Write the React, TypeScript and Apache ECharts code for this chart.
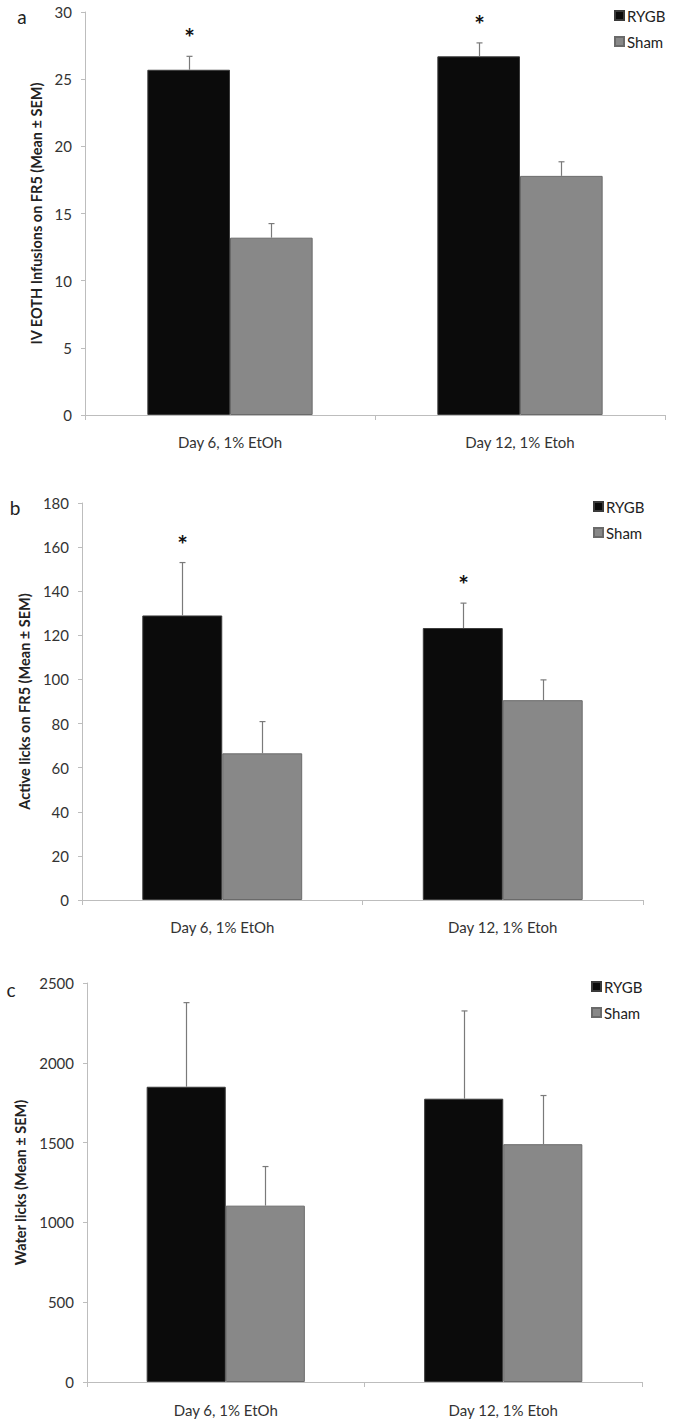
import React, { useEffect, useRef } from "react";
import * as echarts from "echarts";

const categories = ["Day 6, 1% EtOh", "Day 12, 1% Etoh"];
const seriesNames = ["RYGB", "Sham"];

const infusionRYGB = [25.7, 26.7];
const infusionRYGBErr = [1.0, 1.0];
const infusionSham = [13.2, 17.8];
const infusionShamErr = [1.05, 1.05];
const infusionSig = [true, true];

const activeRYGB = [129, 123.3];
const activeRYGBErr = [24, 11.3];
const activeSham = [66.5, 90.6];
const activeShamErr = [14.4, 9.2];
const activeSig = [true, true];

const waterRYGB = [1850, 1775];
const waterRYGBErr = [527, 550];
const waterSham = [1105, 1490];
const waterShamErr = [245, 305];
const waterSig = [false, false];

const yTicksA = { min: 0, max: 30, interval: 5 };
const yTicksB = { min: 0, max: 180, interval: 20 };
const yTicksC = { min: 0, max: 2500, interval: 500 };

const FONT = "Lato, 'Open Sans', sans-serif";
const BAR_GAP_RATIO = 0.43;
const COLORS = ["#0b0b0b", "#888888"];

const panels = [
  {
    grid: { left: 85, top: 12, width: 580, height: 403 },
    yName: "IV EOTH Infusions on FR5 (Mean ± SEM)",
    nameGap: 40,
    ticks: yTicksA,
    rygb: infusionRYGB, rygbErr: infusionRYGBErr,
    sham: infusionSham, shamErr: infusionShamErr,
    sig: infusionSig,
    legend: { left: 614, top: 8 },
    letter: { text: "a", x: 22, y: 16 },
    labelMargin: 19,
  },
  {
    grid: { left: 82, top: 503, width: 561, height: 397 },
    yName: "Active licks on FR5 (Mean ± SEM)",
    nameGap: 47,
    ticks: yTicksB,
    rygb: activeRYGB, rygbErr: activeRYGBErr,
    sham: activeSham, shamErr: activeShamErr,
    sig: activeSig,
    legend: { left: 593, top: 499 },
    letter: { text: "b", x: 15, y: 507 },
    labelMargin: 19,
  },
  {
    grid: { left: 87, top: 983, width: 555, height: 399 },
    yName: "Water licks (Mean ± SEM)",
    nameGap: 57,
    ticks: yTicksC,
    rygb: waterRYGB, rygbErr: waterRYGBErr,
    sham: waterSham, shamErr: waterShamErr,
    sig: waterSig,
    legend: { left: 591, top: 979 },
    letter: { text: "c", x: 11, y: 989 },
    labelMargin: 20,
  },
];

function errorRenderer(side: number, sig: boolean[]) {
  return (params: any, api: any) => {
    const idx = api.value(0);
    const v = api.value(1);
    const e = api.value(2);
    const base = api.coord([idx, v]);
    const top = api.coord([idx, v + e]);
    const band = api.size([1, 0])[0];
    const barW = (band * (1 - BAR_GAP_RATIO)) / 2;
    const x = Math.round(base[0] + (side * barW) / 2) + 0.5;
    const children: any[] = [
      {
        type: "line",
        shape: { x1: x, y1: base[1], x2: x, y2: top[1] },
        style: { stroke: "#7a7a7a", lineWidth: 1.2 },
      },
      {
        type: "line",
        shape: { x1: x - 3, y1: top[1], x2: x + 3, y2: top[1] },
        style: { stroke: "#7a7a7a", lineWidth: 1.2 },
      },
    ];
    if (side < 0 && sig[idx]) {
      children.push({
        type: "text",
        x: x,
        y: top[1] - 19,
        style: {
          text: "*",
          fontSize: 25,
          fontWeight: "bold",
          fontFamily: FONT,
          fill: "#111",
          align: "center",
          verticalAlign: "middle",
        },
      });
    }
    return { type: "group", children };
  };
}

export default function App() {
  const ref = useRef<HTMLDivElement>(null);
  useEffect(() => {
    if (!ref.current) return;
    const chart = echarts.init(ref.current, undefined, { renderer: "svg" });
    const grid: any[] = [];
    const xAxis: any[] = [];
    const yAxis: any[] = [];
    const series: any[] = [];
    const legend: any[] = [];
    const graphic: any[] = [];

    panels.forEach((p, i) => {
      grid.push({ ...p.grid, containLabel: false });
      xAxis.push({
        type: "category",
        gridIndex: i,
        data: categories,
        axisLine: { show: true, lineStyle: { color: "#bdbdbd", width: 1 } },
        axisTick: { show: true, alignWithLabel: false, length: 5, lineStyle: { color: "#bdbdbd" } },
        axisLabel: { margin: p.labelMargin, fontSize: 15, fontFamily: FONT, color: "#333" },
        splitLine: { show: false },
      });
      yAxis.push({
        type: "value",
        gridIndex: i,
        min: p.ticks.min,
        max: p.ticks.max,
        interval: p.ticks.interval,
        name: p.yName,
        nameLocation: "middle",
        nameRotate: 90,
        nameGap: p.nameGap,
        nameTextStyle: { fontSize: 14.5, fontWeight: "bold", fontFamily: FONT, color: "#222" },
        axisLine: { show: true, lineStyle: { color: "#bdbdbd", width: 1 } },
        axisTick: { show: true, length: 4, lineStyle: { color: "#bdbdbd" } },
        axisLabel: {
          margin: 13,
          fontSize: 15,
          fontFamily: FONT,
          color: "#333",
          formatter: (v: number) => String(v),
        },
        splitLine: { show: false },
      });
      series.push({
        name: seriesNames[0],
        type: "bar",
        xAxisIndex: i,
        yAxisIndex: i,
        data: p.rygb,
        barGap: "0%",
        barCategoryGap: BAR_GAP_RATIO * 100 + "%",
        itemStyle: { color: COLORS[0], borderColor: "#3a3a3a", borderWidth: 1 },
      });
      series.push({
        name: seriesNames[1],
        type: "bar",
        xAxisIndex: i,
        yAxisIndex: i,
        data: p.sham,
        barGap: "0%",
        barCategoryGap: BAR_GAP_RATIO * 100 + "%",
        itemStyle: { color: COLORS[1], borderColor: "#6a6a6a", borderWidth: 1 },
      });
      series.push({
        type: "custom",
        xAxisIndex: i,
        yAxisIndex: i,
        z: 5,
        encode: { x: 0, y: 1 },
        data: p.rygb.map((v, k) => [k, v, p.rygbErr[k]]),
        renderItem: errorRenderer(-1, p.sig),
        silent: true,
      });
      series.push({
        type: "custom",
        xAxisIndex: i,
        yAxisIndex: i,
        z: 5,
        encode: { x: 0, y: 1 },
        data: p.sham.map((v, k) => [k, v, p.shamErr[k]]),
        renderItem: errorRenderer(1, p.sig),
        silent: true,
      });
      legend.push({
        data: seriesNames,
        orient: "vertical",
        left: p.legend.left,
        top: p.legend.top,
        icon: "rect",
        itemWidth: 9,
        itemHeight: 9,
        itemGap: 11,
        padding: 0,
        textStyle: { fontSize: 15, fontFamily: FONT, color: "#222", padding: [0, 0, 0, -2] },
      });
      graphic.push({
        type: "text",
        x: p.letter.x,
        y: p.letter.y,
        style: {
          text: p.letter.text,
          fontSize: 19,
          fontFamily: FONT,
          fill: "#222",
          align: "center",
          verticalAlign: "middle",
        },
      });
    });

    chart.setOption({
      animation: false,
      backgroundColor: "#ffffff",
      grid,
      xAxis,
      yAxis,
      series,
      legend,
      graphic,
    });
    return () => chart.dispose();
  }, []);

  return (
    <div
      ref={ref}
      style={{ position: "absolute", left: 0, top: 0, width: 673, height: 1423 }}
    />
  );
}
